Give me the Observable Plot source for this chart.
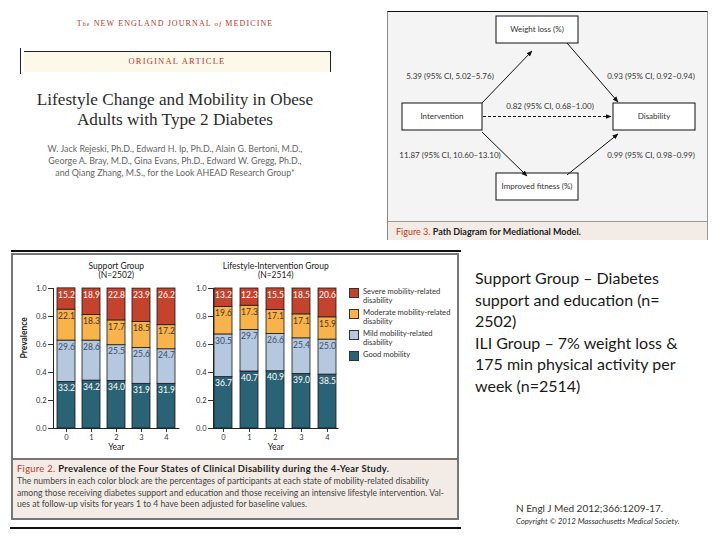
<!DOCTYPE html>
<html><head><meta charset="utf-8">
<script src="https://cdn.jsdelivr.net/npm/d3@7"></script>
<script src="https://cdn.jsdelivr.net/npm/@observablehq/plot@0.6"></script>
<style>
body{margin:0;width:720px;height:540px;position:relative;background:#fff;overflow:hidden;font-family:Lato,"Open Sans",sans-serif}
.abs{position:absolute}
.serif{font-family:"Liberation Serif","DejaVu Serif",serif}
.legend-item{display:flex;align-items:flex-start;margin-bottom:3px}
.sw{width:8px;height:8px;border:1px solid #333;margin-right:4px;margin-top:1px;flex:none}
.lt{font-size:7.6px;line-height:9px;color:#333}
</style></head><body>

<!-- Journal header -->
<div class="abs serif" style="left:15px;top:19px;width:320px;text-align:center;color:#b23a30;font-size:8px;letter-spacing:1.1px">T<span style="font-size:6px">he</span> NEW ENGLAND JOURNAL <i style="font-size:7px">of</i> MEDICINE</div>
<div class="abs" style="left:20px;top:48px;width:1px;height:26px;background:#222"></div>
<div class="abs" style="left:24px;top:51px;width:306px;height:20px;background:#fdf9ea;border-top:1.5px solid #222;border-right:1.5px solid #222"></div>
<div class="abs serif" style="left:24px;top:56px;width:306px;text-align:center;color:#b23a30;font-size:8.5px;letter-spacing:1.2px">ORIGINAL ARTICLE</div>
<div class="abs serif" style="left:15px;top:90px;width:320px;text-align:center;color:#2b2b2b;font-size:17.2px;line-height:20px">Lifestyle Change and Mobility in Obese<br>Adults with Type 2 Diabetes</div>
<div class="abs" style="left:15px;top:143px;width:320px;text-align:center;color:#666;font-size:8.9px;line-height:11.8px">W. Jack Rejeski, Ph.D., Edward H. Ip, Ph.D., Alain G. Bertoni, M.D.,<br>George A. Bray, M.D., Gina Evans, Ph.D., Edward W. Gregg, Ph.D.,<br>and Qiang Zhang, M.S., for the Look AHEAD Research Group*</div>

<!-- Path diagram -->
<div class="abs" style="left:387px;top:11px;width:321px;height:229px;background:#f4f4f4;border-top:1.5px solid #111;border-left:1px solid #888;border-right:1px solid #999;box-sizing:border-box"></div>
<svg class="abs" style="left:387px;top:12px" width="321" height="228" font-family="Lato, sans-serif">
  <defs><marker id="ah" viewBox="0 0 10 10" refX="9" refY="5" markerWidth="6" markerHeight="6" orient="auto"><path d="M0,1 L10,5 L0,9 z" fill="#111"/></marker></defs>
  <g stroke="#111" stroke-width="1" fill="#fff">
    <rect x="109" y="4" width="82" height="27"/>
    <rect x="15" y="91" width="80" height="27"/>
    <rect x="226" y="91" width="82" height="27"/>
    <rect x="109" y="161" width="82" height="27"/>
  </g>
  <g stroke="#111" stroke-width="1" fill="none" marker-end="url(#ah)">
    <line x1="95" y1="91" x2="145" y2="39"/>
    <line x1="180" y1="31" x2="231" y2="90"/>
    <line x1="95" y1="120" x2="140" y2="164"/>
    <line x1="180" y1="163" x2="231" y2="122"/>
    <line x1="96" y1="104.5" x2="224" y2="104.5" stroke-dasharray="3,2"/>
  </g>
  <g font-size="8" fill="#333" text-anchor="middle" dominant-baseline="middle">
    <text x="150" y="18">Weight loss (%)</text>
    <text x="55" y="105">Intervention</text>
    <text x="267" y="105">Disability</text>
    <text x="150" y="175">Improved fitness (%)</text>
    <text x="63" y="65">5.39 (95% CI, 5.02–5.76)</text>
    <text x="264" y="65">0.93 (95% CI, 0.92–0.94)</text>
    <text x="163" y="95">0.82 (95% CI, 0.68–1.00)</text>
    <text x="63" y="144">11.87 (95% CI, 10.60–13.10)</text>
    <text x="264" y="144">0.99 (95% CI, 0.98–0.99)</text>
  </g>
</svg>
<div class="abs" style="left:387px;top:221px;width:321px;height:19px;background:#f3ece6;border-top:1px solid #999;border-left:1px solid #888;border-right:1px solid #999;box-sizing:border-box;font-size:9px;padding:4px 0 0 8px;color:#222"><span style="color:#c0392b">Figure 3.</span> <b>Path Diagram for Mediational Model.</b></div>

<!-- Figure 2 frame -->
<div class="abs" style="left:11px;top:250px;width:450px;height:1.5px;background:#111"></div>
<div class="abs" style="left:11px;top:253px;width:448px;height:267px;border:2px solid #777;box-sizing:border-box;background:#fff"></div>
<div class="abs" style="left:13px;top:458px;width:444px;height:60px;background:#f3ece6;border-top:2px solid #777;box-sizing:border-box;padding:3px 0 0 4px;color:#444;font-size:8.6px;line-height:11.8px;white-space:nowrap">
<div style="margin-bottom:1px;font-size:9.4px;letter-spacing:0.3px"><span style="color:#c0392b">Figure 2.</span> <b style="color:#222">Prevalence of the Four States of Clinical Disability during the 4-Year Study.</b></div>
The numbers in each color block are the percentages of participants at each state of mobility-related disability<br>among those receiving diabetes support and education and those receiving an intensive lifestyle intervention. Val-<br>ues at follow-up visits for years 1 to 4 have been adjusted for baseline values.</div>
<div class="abs" style="left:10px;top:527px;width:451px;height:1.5px;background:#111"></div>

<div id="c1" class="abs" style="left:12px;top:253px"></div>
<div id="c2" class="abs" style="left:172px;top:253px"></div>
<div id="leg" class="abs" style="left:349px;top:287px;width:108px"></div>

<!-- Right notes -->
<div class="abs" style="left:475px;top:267px;font-size:16px;line-height:21.6px;color:#1a1a1a;width:245px">Support Group – Diabetes<br>support and education (n=<br>2502)<br>ILI Group – 7% weight loss &amp;<br>175 min physical activity per<br>week (n=2514)</div>
<div class="abs" style="left:516px;top:502px;font-size:10px;color:#333">N Engl J Med 2012;366:1209-17.</div>
<div class="abs" style="left:516px;top:516px;font-size:7.8px;color:#333;font-style:italic">Copyright © 2012 Massachusetts Medical Society.</div>

<script>
const years = [0, 1, 2, 3, 4];
const states = ["Good mobility", "Mild mobility-related disability", "Moderate mobility-related disability", "Severe mobility-related disability"];
const stateColors = ["#2b6376", "#b5c8df", "#f8b34b", "#c4432c"];
const labelColors = ["#ffffff", "#3a4c6a", "#4a3210", "#ffffff"];

const supportGood = [33.2, 34.2, 34.0, 31.9, 31.9];
const supportMild = [29.6, 28.6, 25.5, 25.6, 24.7];
const supportModerate = [22.1, 18.3, 17.7, 18.5, 17.2];
const supportSevere = [15.2, 18.9, 22.8, 23.9, 26.2];

const iliGood = [36.7, 40.7, 40.9, 39.0, 38.5];
const iliMild = [30.5, 29.7, 26.6, 25.4, 25.0];
const iliModerate = [19.6, 17.3, 17.1, 17.1, 15.9];
const iliSevere = [13.2, 12.3, 15.5, 18.5, 20.6];

const yTicks = [0, 0.2, 0.4, 0.6, 0.8, 1.0];

function buildRows(series) {
  const rows = [];
  years.forEach((yr, i) => states.forEach((s, j) => rows.push({year: yr, state: s, value: series[j][i] / 100, label: series[j][i].toFixed(1)})));
  return rows;
}

function chart(rows, title, n, opts) {
  return Plot.plot({
    width: opts.width, height: 202,
    marginLeft: 41, marginRight: opts.width - 41 - opts.plotW, marginTop: 35, marginBottom: 27,
    style: {background: "transparent", fontFamily: "Lato, sans-serif", fontSize: "7.5px", color: "#333", overflow: "visible"},
    x: {domain: years, paddingInner: 0.3, paddingOuter: opts.outer, tickSize: 4, tickPadding: 2, label: null},
    y: {domain: [0, 1], ticks: yTicks, tickFormat: ".1f", tickSize: 5, tickPadding: 2, label: null},
    color: {domain: states, range: stateColors},
    marks: [
      Plot.barY(rows, Plot.stackY({x: "year", y: "value", fill: "state", stroke: "#1a1a1a", strokeWidth: 0.8})),
      ...states.map((s, j) => Plot.text(rows, Plot.stackY2({x: "year", y: "value", z: "state",
        text: d => d.state === s ? d.label : null, fill: labelColors[j], dy: 6.5, fontSize: 8.5}))),
      Plot.frame({anchor: "left", stroke: "#222"}),
      Plot.frame({anchor: "bottom", stroke: "#222"}),
      Plot.text([title], {text: d => d, frameAnchor: "top", dy: -26, fontSize: 8.5, fill: "#222"}),
      Plot.text([n], {text: d => d, frameAnchor: "top", dy: -17, fontSize: 8.5, fill: "#222"}),
      Plot.text(["Year"], {text: d => d, frameAnchor: "bottom", dy: 21, fontSize: 8.5, fill: "#222"}),
      ...(opts.ylabel ? [Plot.text(["Prevalence"], {text: d => d, frameAnchor: "left", dx: -29, rotate: -90, fontSize: 8.5, fontWeight: "bold", fill: "#222"})] : [])
    ]
  });
}

document.getElementById("c1").append(chart(buildRows([supportGood, supportMild, supportModerate, supportSevere]), "Support Group", "(N=2502)", {width: 170, plotW: 125.5, outer: 0.1, ylabel: true}));
document.getElementById("c2").append(chart(buildRows([iliGood, iliMild, iliModerate, iliSevere]), "Lifestyle-Intervention Group", "(N=2514)", {width: 170, plotW: 124.5, outer: 0.04, ylabel: false}));

// legend (top to bottom: severe first)
const leg = document.getElementById("leg");
[3, 2, 1, 0].forEach(j => {
  const item = document.createElement("div");
  item.className = "legend-item";
  item.innerHTML = `<div class="sw" style="background:${stateColors[j]}"></div><div class="lt">${states[j]}</div>`;
  leg.append(item);
});
</script>
</body></html>
